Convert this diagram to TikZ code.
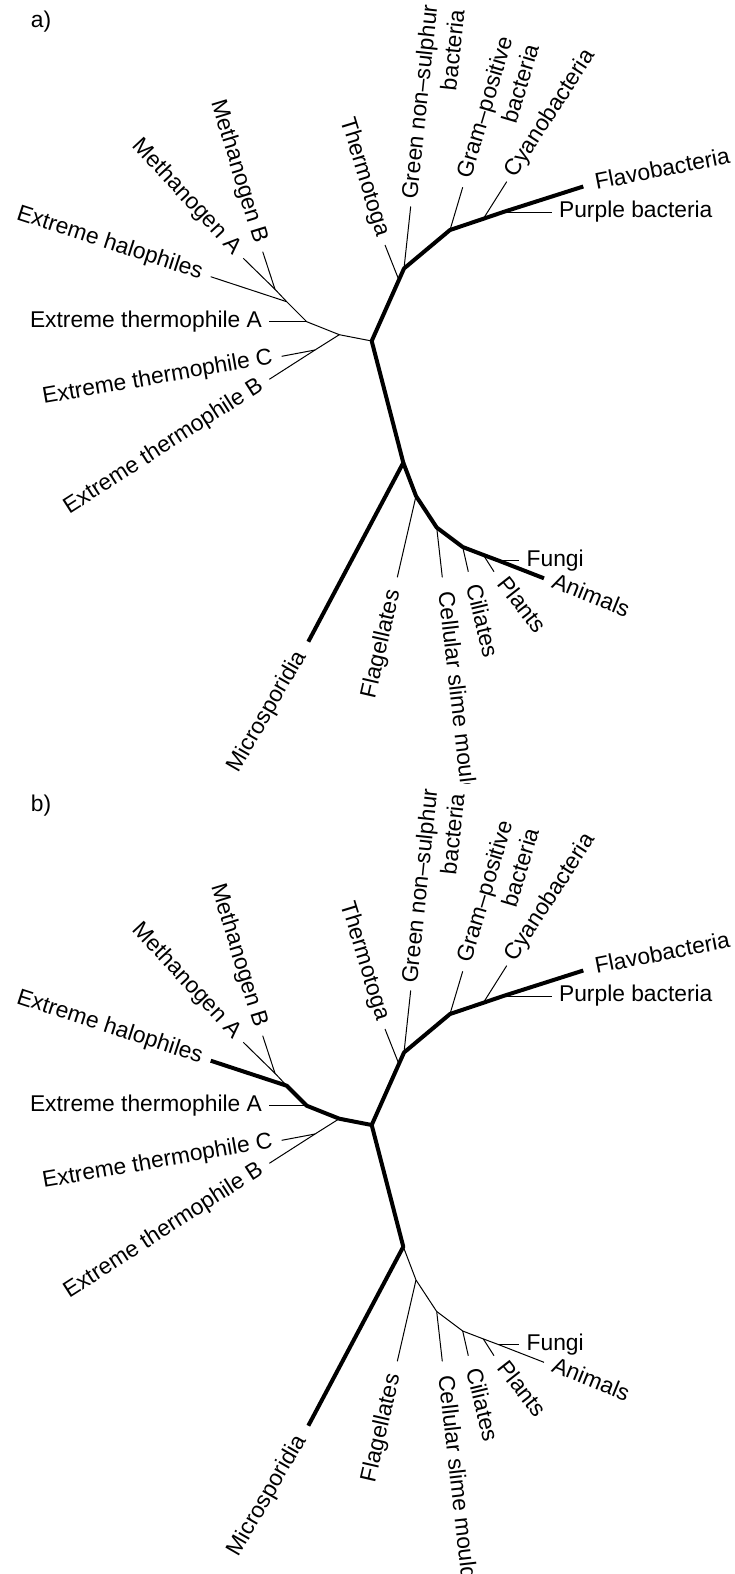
\documentclass[tikz,border=0pt]{standalone}
\usepackage{fontspec}
\setmainfont{Liberation Sans}

\newcommand{\lifetree}[2]{%
	\coordinate (r1) at (371.7,341);
	\coordinate (r2) at (403.3,462.7);
	\coordinate (tb) at (398.9,280);
	\coordinate (b1) at (404,268.5);
	\coordinate (g1) at (450,230);
	\coordinate (c1) at (483.3,218.8);
	\coordinate (p1) at (503.3,212);
	\coordinate (flv) at (583.3,186.5);
	\coordinate (tmt) at (385,245);
	\coordinate (grn) at (410.7,206.5);
	\coordinate (grm) at (462.7,187.3);
	\coordinate (cya) at (506.7,181.7);
	\coordinate (prp) at (551.7,212);
	\coordinate (a1) at (339.3,334.7);
	\coordinate (a2) at (306.7,321.7);
	\coordinate (a3) at (286.7,301.7);
	\coordinate (a4) at (275,289.3);
	\coordinate (tA) at (269.3,321.7);
	\coordinate (hal) at (210.7,276.7);
	\coordinate (mA) at (243.3,258.3);
	\coordinate (mB) at (262.7,251.7);
	\coordinate (cb) at (315,350);
	\coordinate (tC) at (281.7,356.3);
	\coordinate (tB) at (269.3,379.3);
	\coordinate (e1) at (416,496);
	\coordinate (e2) at (436.7,527.5);
	\coordinate (e3) at (462.7,547);
	\coordinate (e4) at (483.3,554.9);
	\coordinate (e5) at (498.3,560.5);
	\coordinate (anm) at (544,578.3);
	\coordinate (fng) at (519.3,560.5);
	\coordinate (plt) at (494,571.7);
	\coordinate (cil) at (468.3,571.7);
	\coordinate (slm) at (442.3,577.3);
	\coordinate (flg) at (397.3,577.3);
	\coordinate (mic) at (308.3,641.7);
	\draw[trunk] (mic) -- (r2) -- (r1) -- (b1) -- (g1) -- (c1) -- (p1) -- (flv);
	\draw[#1] (r1) -- (a1) -- (a2) -- (a3) -- (hal);
	\draw[#2] (r2) -- (e1) -- (e2) -- (e3) -- (e4) -- (e5) -- (anm);
	\draw[twig] (a3) -- (a4) -- (mA);
	\draw[twig] (a4) -- (mB);
	\draw[twig] (a2) -- (tA);
	\draw[twig] (a1) -- (cb) -- (tC);
	\draw[twig] (cb) -- (tB);
	\draw[twig] (tb) -- (tmt);
	\draw[twig] (b1) -- (grn);
	\draw[twig] (g1) -- (grm);
	\draw[twig] (c1) -- (cya);
	\draw[twig] (p1) -- (prp);
	\draw[twig] (e1) -- (flg);
	\draw[twig] (e2) -- (slm);
	\draw[twig] (e3) -- (cil);
	\draw[twig] (e4) -- (plt);
	\draw[twig] (e5) -- (fng);
	\node[lbl, inner xsep=3.5pt, anchor=east] (thermoA) at (tA) {Extreme thermophile A};
	\node[lbl, anchor=east, rotate=10] (thermoC) at (tC) {Extreme thermophile C};
	\node[lbl, anchor=east, rotate=32.7] (thermoB) at (tB) {Extreme thermophile B};
	\node[lbl, anchor=east, rotate=-18] (halophiles) at (hal) {Extreme halophiles};
	\node[lbl, anchor=east, rotate=-47] (methA) at (mA) {Methanogen A};
	\node[lbl, anchor=east, rotate=-73] (methB) at (mB) {Methanogen B};
	\node[lbl, anchor=east, rotate=-73] (thermotoga) at (tmt) {Thermotoga};
	\node[lbl, inner xsep=3.5pt, anchor=west, rotate=84] (green) at (grn) {Green non--sulphur};
	\node[lbl, anchor=north east, rotate=84] (green2) at (green.south east) {bacteria};
	\node[lbl, anchor=west, rotate=73.4] (gram) at (grm) {Gram--positive};
	\node[lbl, anchor=north east, rotate=73.4] (gram2) at (gram.south east) {bacteria};
	\node[lbl, inner xsep=3.5pt, anchor=west, rotate=57] (cyano) at (cya) {Cyanobacteria};
	\node[lbl, inner xsep=6pt, anchor=west, rotate=11] (flavo) at (flv) {Flavobacteria};
	\node[lbl, inner xsep=3.5pt, anchor=west] (purple) at (prp) {Purple bacteria};
	\node[lbl, inner xsep=3.5pt, anchor=west] (fungi) at (fng) {Fungi};
	\node[lbl, anchor=west, rotate=-22] (animals) at (anm) {Animals};
	\node[lbl, inner xsep=5.5pt, anchor=west, rotate=-52] (plants) at (plt) {Plants};
	\node[lbl, inner xsep=6.5pt, anchor=west, rotate=-76.5] (ciliates) at (cil) {Ciliates};
	\node[lbl, inner xsep=7pt, anchor=west, rotate=-83.5] (slime) at (slm) {Cellular slime mould};
	\node[lbl, inner xsep=6.5pt, anchor=east, rotate=77] (flagellates) at (flg) {Flagellates};
	\node[lbl, inner xsep=6.5pt, anchor=east, rotate=60] (micro) at (mic) {Microsporidia};
}

\begin{document}
\begin{tikzpicture}[x=0.5pt, y=-0.5pt,
	twig/.style={line width=0.5pt},
	trunk/.style={line width=2pt, line join=round},
	lbl/.style={font=\fontsize{11.4}{13.5}\selectfont, inner xsep=4.5pt, inner ysep=1.5pt, text height=8pt, text depth=2.4pt}]
	\useasboundingbox (0,0) rectangle (734,1574);
	\node[lbl] (panela) at (41,22) {a)};
	\node[lbl] (panelb) at (41,806) {b)};
	\begin{scope}[name prefix=a-]
		\clip (0,0) rectangle (734,783);
		\lifetree{twig}{trunk}
	\end{scope}
	\begin{scope}[shift={(0,784)}, name prefix=b-]
		\lifetree{trunk}{twig}
	\end{scope}
\end{tikzpicture}
\end{document}
